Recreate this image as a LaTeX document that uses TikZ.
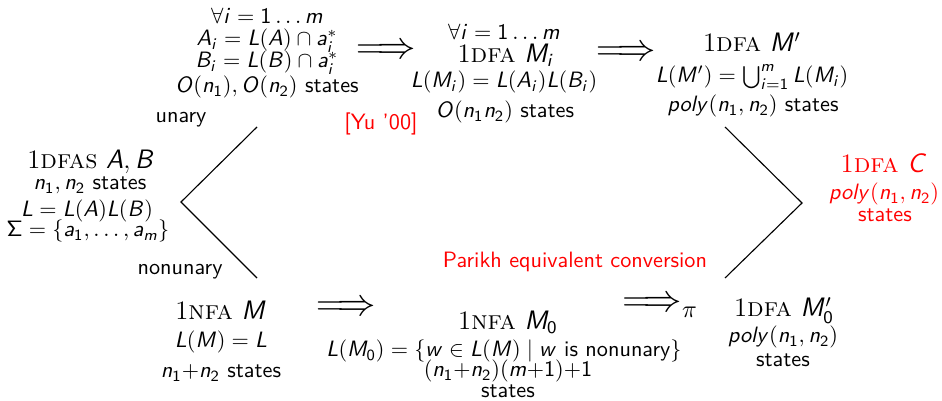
\documentclass[tikz,border=0pt]{standalone}
\DeclareSymbolFont{sfop}{OT1}{cmss}{m}{n}
\DeclareSymbolFont{sfit}{OT1}{cmss}{m}{sl}
\newcommand\sfl[1]{\DeclareMathSymbol{#1}{\mathalpha}{sfit}{`#1}}
\newcommand\sfd[1]{\DeclareMathSymbol{#1}{\mathalpha}{sfop}{`#1}}
\sfl a\sfl b\sfl c\sfl d\sfl e\sfl f\sfl g\sfl h\sfl i\sfl j\sfl k\sfl l\sfl m
\sfl n\sfl o\sfl p\sfl q\sfl r\sfl s\sfl t\sfl u\sfl v\sfl w\sfl x\sfl y\sfl z
\sfl A\sfl B\sfl C\sfl D\sfl E\sfl F\sfl G\sfl H\sfl I\sfl J\sfl K\sfl L\sfl M
\sfl N\sfl O\sfl P\sfl Q\sfl R\sfl S\sfl T\sfl U\sfl V\sfl W\sfl X\sfl Y\sfl Z
\sfd 0\sfd 1\sfd 2\sfd 3\sfd 4\sfd 5\sfd 6\sfd 7\sfd 8\sfd 9
\DeclareMathSymbol{\Sigma}{\mathalpha}{sfop}{"06}
\newcommand\fa[1]{{\rmfamily 1\textsc{#1}}}
\tikzset{
  txt/.style={anchor=base, inner sep=0pt, font=\sffamily\fontsize{10}{12}\selectfont},
  big/.style={anchor=base, inner sep=0pt, font=\sffamily\large},
  hl/.style={text=red},
  arr/.style={anchor=base, inner sep=0pt, font=\fontsize{16}{16}\selectfont},
  branch/.style={draw=black, line width=0.5pt}
}
\begin{document}
\begin{tikzpicture}[x=0.45pt, y=-0.45pt]
\useasboundingbox (0,0) rectangle (942,401);
% top-left
\node[txt] (tla) at (267,24) {$\forall i=1\ldots m$};
\node[txt] (tlb) at (267,46) {$A_i=L(A)\cap a_i^*$};
\node[txt] (tlc) at (267,68) {$B_i=L(B)\cap a_i^*$};
\node[txt] (tld) at (267,93) {$O(n_1), O(n_2)$ states};
\node[txt] (unary) at (181,123) {unary};
\node[txt,hl] (yu) at (381,130) {[Yu '00]};
\node[arr] (arr1) at (386,59) {$\Longrightarrow$};
% top-middle
\node[txt] (tma) at (504,40) {$\forall i=1\ldots m$};
\node[big] (tmb) at (506,63) {\fa{dfa} $M_i$};
\node[txt] (tmc) at (504,88) {$L(M_i)=L(A_i)L(B_i)$};
\node[txt] (tmd) at (505,118) {$O(n_1 n_2)$ states};
\node[arr] (arr2) at (626,61) {$\Longrightarrow$};
% top-right
\node[big] (tra) at (752,52) {\fa{dfa} $M'$};
\node[txt] (trb) at (752,83) {$L(M')=\bigcup_{i=1}^m L(M_i)$};
\node[txt] (trc) at (753,112) {$poly(n_1,n_2)$ states};
% left
\node[big] (la) at (91,169) {\fa{dfas} $A,B$};
\node[txt] (lb) at (90,190) {$n_1,n_2$ states};
\node[txt] (lc) at (87,217) {$L=L(A)L(B)$};
\node[txt] (ld) at (88,237) {$\Sigma=\{a_1,\ldots,a_m\}$};
\node[txt] (nonunary) at (180,275) {nonunary};
% right (result)
\node[big,hl] (ra) at (884,173) {\fa{dfa} $C$};
\node[txt,hl] (rb) at (884,200) {$poly(n_1,n_2)$};
\node[txt,hl] (rc) at (885,222) {states};
\node[txt,hl] (parikh) at (575,268) {Parikh equivalent conversion};
% bottom-left
\node[big] (bla) at (221,320) {\fa{nfa} $M$};
\node[txt] (blb) at (221,348) {$L(M)=L$};
\node[txt] (blc) at (221,378) {$n_1{+}n_2$ states};
\node[arr] (arr3) at (346,316) {$\Longrightarrow$};
% bottom-middle
\node[big] (bma) at (508,330) {\fa{nfa} $M_0$};
\node[txt] (bmb) at (504,357) {$L(M_0)=\{w\in L(M)\mid w\mbox{ is nonunary}\}$};
\node[txt] (bmc) at (508,377) {$(n_1{+}n_2)(m{+}1){+}1$};
\node[txt] (bmd) at (508,398) {states};
\node[arr,anchor=base west] (arr4) at (622,312) {$\Longrightarrow_\pi$};
% bottom-right
\node[big] (bra) at (784,317) {\fa{dfa} $M_0'$};
\node[txt] (brb) at (783,343) {$poly(n_1,n_2)$};
\node[txt] (brc) at (783,367) {states};
% branch lines
\coordinate (lu) at (257,127);
\coordinate (lv) at (181,202);
\coordinate (ll) at (257,278);
\coordinate (ru) at (725,127);
\coordinate (rv) at (802,203);
\coordinate (rl) at (725,278);
\draw[branch] (lu) -- (lv) -- (ll);
\draw[branch] (ru) -- (rv) -- (rl);
\end{tikzpicture}
\end{document}
